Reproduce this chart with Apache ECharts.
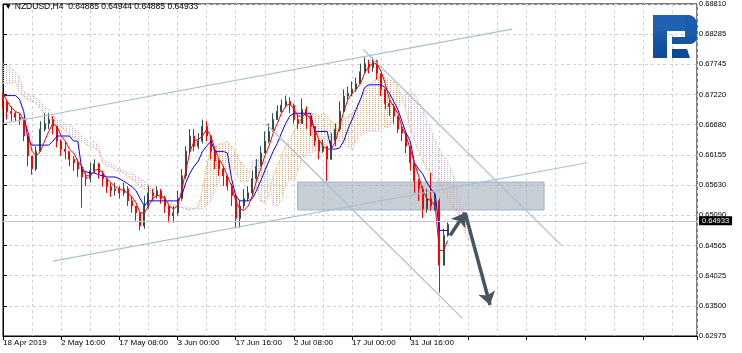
<!DOCTYPE html>
<html><head><meta charset="utf-8">
<script src="https://cdn.jsdelivr.net/npm/echarts@6/dist/echarts.min.js"></script>
<style>html,body{margin:0;padding:0;background:#fff}#c{width:742px;height:353px}</style>
</head><body><div id="c"></div>
<script>
// ---- data (slot index = position in arrays, each slot ~4.5 H4 bars) ----
const xLabels = ['18 Apr 2019','2 May 16:00','17 May 08:00','3 Jun 00:00','17 Jun 16:00','2 Jul 08:00','17 Jul 00:00','31 Jul 16:00'];
const yTicks = ['0.68810','0.68285','0.67745','0.67220','0.66680','0.66155','0.65630','0.65090','0.64565','0.64025','0.63500','0.62975'];
const titleText = '\u25BC NZDUSD,H4  0.64885 0.64944 0.64885 0.64933';

const opens = [.6719,.6710,.6692,.6689,.6682,.6678,.6649,.6614,.6591,.6622,
.6661,.6671,.6678,.6666,.6640,.6626,.6622,.6608,.6602,.6591,
.6577,.6574,.6588,.6600,.6584,.6574,.6560,.6553,.6556,.6549,
.6556,.6535,.6526,.6514,.6491,.6526,.6549,.6544,.6553,.6539,
.6526,.6509,.6514,.6539,.6579,.6622,.6649,.6631,.6640,.6666,
.6649,.6622,.6605,.6591,.6579,.6561,.6544,.6504,.6526,.6539,
.6549,.6574,.6596,.6619,.6640,.6657,.6678,.6692,.6703,.6710,
.6703,.6678,.6671,.6696,.6684,.6666,.6640,.6622,.6631,.6608,
.6640,.6661,.6692,.6719,.6724,.6731,.6741,.6762,.6776,.6769,
.6780,.6759,.6731,.6706,.6701,.6684,.6661,.6654,.6631,.6602,
.6570,.6556,.6521,.6539,.6526,.6535,.6422,.6474];
const closes = [.6710,.6692,.6689,.6682,.6678,.6649,.6614,.6591,.6622,.6661,
.6671,.6678,.6666,.6640,.6626,.6622,.6608,.6602,.6591,.6577,
.6574,.6588,.6600,.6584,.6574,.6560,.6553,.6556,.6549,.6556,
.6535,.6526,.6514,.6491,.6526,.6549,.6544,.6553,.6539,.6526,
.6509,.6514,.6539,.6579,.6622,.6649,.6631,.6640,.6666,.6649,
.6622,.6605,.6591,.6579,.6561,.6544,.6504,.6526,.6539,.6549,
.6574,.6596,.6619,.6640,.6657,.6678,.6692,.6703,.6710,.6703,
.6678,.6671,.6696,.6684,.6666,.6640,.6622,.6631,.6608,.6640,
.6661,.6692,.6719,.6724,.6731,.6741,.6762,.6776,.6769,.6780,
.6759,.6731,.6706,.6701,.6684,.6661,.6654,.6631,.6602,.6570,
.6556,.6521,.6539,.6526,.6535,.6422,.6474,.64933];
const lows = [.6696,.6678,.6675,.6675,.6668,.6640,.6596,.6581,.6588,.6622,
.6657,.6661,.6652,.6629,.6614,.6608,.6596,.6588,.6577,.6523,
.6561,.6567,.6584,.6574,.6560,.6549,.6542,.6544,.6539,.6544,
.6526,.6514,.6500,.6483,.6486,.6521,.6535,.6539,.6530,.6514,
.6497,.6497,.6509,.6535,.6574,.6619,.6622,.6626,.6636,.6640,
.6608,.6591,.6579,.6561,.6553,.6526,.6488,.6488,.6521,.6535,
.6544,.6570,.6596,.6619,.6636,.6657,.6678,.6689,.6699,.6689,
.6671,.6661,.6671,.6661,.6649,.6631,.6608,.6619,.6570,.6608,
.6631,.6657,.6692,.6713,.6719,.6727,.6741,.6759,.6759,.6762,
.6748,.6719,.6696,.6684,.6671,.6654,.6640,.6619,.6588,.6549,
.6535,.6505,.6514,.6518,.6518,.6374,.6422,.6472];
const highs = [.6724,.6710,.6701,.6692,.6689,.6678,.6649,.6614,.6631,.6675,
.6689,.6689,.6684,.6666,.6643,.6640,.6622,.6614,.6608,.6596,
.6584,.6602,.6608,.6602,.6588,.6574,.6567,.6567,.6561,.6567,
.6561,.6544,.6526,.6514,.6544,.6561,.6556,.6561,.6556,.6544,
.6526,.6526,.6553,.6591,.6631,.6661,.6661,.6654,.6678,.6675,
.6649,.6626,.6608,.6596,.6579,.6565,.6544,.6535,.6556,.6561,
.6588,.6608,.6631,.6657,.6671,.6689,.6703,.6713,.6720,.6717,
.6706,.6689,.6715,.6701,.6684,.6666,.6643,.6643,.6631,.6654,
.6671,.6710,.6731,.6736,.6745,.6752,.6776,.6787,.6783,.6787,
.6783,.6759,.6731,.6713,.6706,.6684,.6666,.6654,.6631,.6602,
.6574,.6561,.6556,.6584,.6549,.6539,.6486,.6497];
const tenkan = [.6724,.6710,.6699,.6692,.6689,.6678,.6657,.6622,.6614,.6622,
.6640,.6657,.6671,.6666,.6649,.6640,.6626,.6619,.6605,.6596,
.6579,.6579,.6588,.6591,.6584,.6574,.6567,.6560,.6556,.6553,
.6549,.6542,.6532,.6514,.6514,.6526,.6539,.6544,.6544,.6539,
.6526,.6521,.6526,.6553,.6588,.6622,.6640,.6643,.6649,.6661,
.6649,.6626,.6608,.6596,.6579,.6561,.6535,.6521,.6518,.6526,
.6544,.6570,.6591,.6614,.6631,.6654,.6671,.6689,.6701,.6706,
.6696,.6684,.6684,.6689,.6678,.6661,.6643,.6631,.6626,.6626,
.6640,.6666,.6692,.6713,.6724,.6731,.6741,.6759,.6771,.6776,
.6776,.6762,.6741,.6713,.6701,.6689,.6666,.6649,.6626,.6602,
.6579,.6553,.6539,.6535,.6526,.6448,.6448,.6465];
const kijun = [.6720,.6720,.6720,.6720,.6713,.6692,.6643,.6633,.6633,.6633,
.6633,.6633,.6640,.6649,.6649,.6649,.6649,.6640,.6640,.6588,
.6586,.6584,.6584,.6581,.6579,.6577,.6577,.6577,.6574,.6570,
.6565,.6560,.6553,.6539,.6526,.6535,.6535,.6535,.6535,.6535,
.6535,.6535,.6535,.6544,.6567,.6584,.6596,.6605,.6622,.6631,
.6640,.6622,.6622,.6622,.6619,.6574,.6544,.6535,.6535,.6535,
.6539,.6553,.6570,.6588,.6605,.6622,.6636,.6654,.6671,.6684,
.6689,.6689,.6689,.6689,.6689,.6657,.6657,.6657,.6657,.6626,
.6626,.6628,.6640,.6661,.6678,.6696,.6713,.6734,.6739,.6739,
.6739,.6739,.6734,.6724,.6710,.6696,.6675,.6654,.6640,.6602,
.6591,.6582,.6567,.6556,.6547,.6483,.6483,.6483];
const spanA = [.6741,.6741,.6741,.6745,.6724,.6719,.6713,.6710,.6706,.6696,
.6689,.6684,.6678,.6671,.6664,.6657,.6652,.6647,.6643,.6640,
.6635,.6631,.6629,.6622,.6602,.6596,.6596,.6588,.6588,.6584,
.6577,.6574,.6567,.6560,.6556,.6553,.6547,.6542,.6539,.6535,
.6530,.6526,.6526,.6523,.6521,.6518,.6521,.6526,.6553,.6596,
.6622,.6631,.6635,.6635,.6640,.6631,.6619,.6605,.6596,.6588,
.6579,.6561,.6535,.6532,.6544,.6579,.6596,.6614,.6631,.6643,
.6657,.6671,.6684,.6689,.6689,.6689,.6684,.6689,.6684,.6675,
.6666,.6675,.6678,.6684,.6689,.6701,.6713,.6727,.6736,.6745,
.6752,.6753,.6752,.6748,.6745,.6736,.6719,.6692,.6661,.6640,
.6622,.6605,.6591,.6584,.6574,.6567,.6553,.6539,.6526,.6518,
.6504,.6483,.6465];
const spanB = [.6776,.6773,.6769,.6762,.6753,.6727,.6722,.6720,.6717,.6710,
.6701,.6696,.6687,.6678,.6675,.6671,.6668,.6664,.6657,.6650,
.6643,.6640,.6640,.6631,.6608,.6605,.6600,.6596,.6591,.6588,
.6584,.6584,.6579,.6574,.6570,.6565,.6560,.6553,.6547,.6542,
.6535,.6530,.6526,.6523,.6525,.6523,.6521,.6521,.6521,.6526,
.6535,.6553,.6570,.6584,.6591,.6596,.6584,.6570,.6567,.6570,
.6605,.6608,.6608,.6605,.6579,.6526,.6526,.6535,.6561,.6574,
.6570,.6588,.6608,.6614,.6619,.6622,.6626,.6631,.6636,.6640,
.6643,.6640,.6636,.6631,.6626,.6640,.6649,.6654,.6657,.6657,
.6657,.6661,.6664,.6664,.6680,.6696,.6713,.6724,.6727,.6724,
.6710,.6696,.6678,.6661,.6640,.6626,.6614,.6605,.6588,.6570,
.6539,.6514,.6491];

// annotations in data space [slot, price]
const trendLines = [
  [[0, 0.6671], [122.5, 0.6837]],
  [[12.0, 0.6429], [140.6, 0.6602]],
  [[86.7, 0.6801], [134.5, 0.6456]],
  [[63.2, 0.6671], [110.5, 0.6329]]
];
const zone = [[70.9, 0.6568], [130.2, 0.6519]];
const arrows = [
  [[107.6, 0.6474], [111.2, 0.6514]],
  [[111.2, 0.6514], [117.2, 0.6352]]
];

const SLOTS = 167;
const FONT = 'Liberation Sans, Arial, sans-serif';

function pattern(color) {
  const c = document.createElement('canvas');
  c.width = 3; c.height = 2;
  const g = c.getContext('2d');
  g.fillStyle = color;
  g.fillRect(0, 0, 1, 1);
  return { image: c, repeat: 'repeat' };
}
const patA = pattern('#f2a060');
const patB = pattern('#c8a8d0');

const candleData = opens.map((o, i) => [i, o, closes[i], lows[i], highs[i]]);
const lastPrice = closes[closes.length - 1];
const logoFill = { type: 'linear', x: 0, y: 0, x2: 0, y2: 1, colorStops: [{ offset: 0, color: '#2266b8' }, { offset: 1, color: '#0c4a96' }] };

const chart = echarts.init(document.getElementById('c'), null, { renderer: 'canvas' });
chart.setOption({
  animation: false,
  backgroundColor: '#fff',
  grid: { left: 2, right: 45, top: 2, bottom: 17, show: true, borderColor: '#000', borderWidth: 1, backgroundColor: '#fff' },
  xAxis: [
    { type: 'value', min: 0, max: SLOTS, interval: 14, position: 'bottom',
      axisLine: { show: true, lineStyle: { color: '#000' } },
      axisTick: { show: true, length: 4, lineStyle: { color: '#000' } },
      axisLabel: { show: true, color: '#000', fontSize: 8, fontFamily: FONT, align: 'left', margin: 3,
        formatter: v => { const k = Math.round(v / 14); return (Math.abs(v - k * 14) < 1e-6 && xLabels[k]) ? xLabels[k] : ''; } },
      splitLine: { show: false } },
    { type: 'value', min: 0, max: SLOTS, interval: 7, position: 'top',
      axisLine: { show: false }, axisTick: { show: false }, axisLabel: { show: false },
      splitLine: { show: true, lineStyle: { color: '#d2d2d2', type: [3, 3], width: 1 } } }
  ],
  yAxis: [
    { type: 'value', min: 0.62975, max: 0.68810, show: false },
    { type: 'value', min: 0, max: yTicks.length - 1, interval: 1, position: 'right',
      axisLine: { show: true, lineStyle: { color: '#000' } },
      axisTick: { show: true, length: 4, lineStyle: { color: '#000' } },
      axisLabel: { color: '#000', fontSize: 7.5, fontFamily: FONT, margin: 2,
        formatter: v => yTicks[yTicks.length - 1 - Math.round(v)] || '' },
      splitLine: { show: true, lineStyle: { color: '#d2d2d2', type: [3, 3], width: 1 } } }
  ],
  series: [
    { type: 'custom', name: 'cloud', xAxisIndex: 0, yAxisIndex: 0, z: 1, clip: true, silent: true,
      data: spanA.map((a, i) => [i, a, spanB[i]]),
      encode: { x: 0, y: [1, 2] },
      renderItem: function (params, api) {
        const i = params.dataIndex;
        if (i >= spanA.length - 1) return null;
        const p1 = api.coord([i, spanA[i]]), p2 = api.coord([i + 1, spanA[i + 1]]);
        const p3 = api.coord([i + 1, spanB[i + 1]]), p4 = api.coord([i, spanB[i]]);
        const up = spanA[i] + spanA[i + 1] >= spanB[i] + spanB[i + 1];
        return { type: 'polygon', shape: { points: [p1, p2, p3, p4] }, style: { fill: up ? patA : patB, stroke: null } };
      } },
    { type: 'line', name: 'spanA', xAxisIndex: 0, yAxisIndex: 0, z: 2, showSymbol: false, silent: true,
      data: spanA.map((v, i) => [i, v]), lineStyle: { color: '#f4a460', width: 1, type: 'dotted' } },
    { type: 'line', name: 'spanB', xAxisIndex: 0, yAxisIndex: 0, z: 2, showSymbol: false, silent: true,
      data: spanB.map((v, i) => [i, v]), lineStyle: { color: '#d8bfd8', width: 1, type: 'dotted' } },
    { type: 'candlestick', name: 'NZDUSD', xAxisIndex: 0, yAxisIndex: 0, z: 3, barWidth: 1.5,
      data: candleData,
      itemStyle: { color: '#2f4f4f', color0: '#ff0000', borderColor: '#2f4f4f', borderColor0: '#ff0000', borderWidth: 1 },
      markLine: { silent: true, symbol: 'none', animation: false,
        data: [{ yAxis: lastPrice }],
        lineStyle: { color: '#c4c4c4', type: 'solid', width: 1 },
        label: { show: true, position: 'end', distance: 2, formatter: lastPrice.toFixed(5),
          color: '#fff', backgroundColor: '#000', padding: [1, 3, 0, 3], fontSize: 7.5, fontFamily: FONT } } },
    { type: 'line', name: 'kijun', xAxisIndex: 0, yAxisIndex: 0, z: 4, showSymbol: false, silent: true,
      data: kijun.map((v, i) => [i, v]), lineStyle: { color: '#0000ff', width: 1 } },
    { type: 'line', name: 'tenkan', xAxisIndex: 0, yAxisIndex: 0, z: 4, showSymbol: false, silent: true,
      data: tenkan.map((v, i) => [i, v]), lineStyle: { color: '#ff0000', width: 1 } },
    { type: 'line', name: 'annotations', xAxisIndex: 0, yAxisIndex: 0, z: 5, data: [], silent: true,
      markLine: { silent: true, symbol: 'none', animation: false, label: { show: false },
        lineStyle: { color: '#a9bfd0', width: 1.2, type: 'solid' },
        data: trendLines.map(l => [{ coord: l[0] }, { coord: l[1] }]) },
      markArea: { silent: true, animation: false,
        itemStyle: { color: 'rgba(150,162,175,0.52)', borderColor: '#9db4cc', borderWidth: 1 },
        data: [[{ coord: zone[0] }, { coord: zone[1] }]] } },
    { type: 'line', name: 'arrows', xAxisIndex: 0, yAxisIndex: 0, z: 6, data: [], silent: true,
      markLine: { silent: true, symbol: ['none', 'arrow'], symbolSize: 13, animation: false, label: { show: false },
        lineStyle: { color: '#46555f', width: 3.5, type: 'solid' },
        data: arrows.map(l => [{ coord: l[0] }, { coord: l[1] }]) } }
  ],
  graphic: [
    { type: 'text', left: 4, top: 2, z: 100,
      style: { text: titleText, fill: '#000', font: '8.5px ' + FONT } },
    { type: 'rect', z: 100, shape: { x: 653, y: 15, width: 14, height: 43 }, style: { fill: logoFill } },
    { type: 'rect', z: 100, shape: { x: 653, y: 15, width: 44, height: 16, r: [0, 9, 0, 0] }, style: { fill: '#1f62b3' } },
    { type: 'rect', z: 100, shape: { x: 685, y: 15, width: 12, height: 29, r: [0, 9, 9, 0] }, style: { fill: '#1a5cab' } },
    { type: 'rect', z: 100, shape: { x: 672, y: 37, width: 25, height: 7, r: [0, 0, 7, 0] }, style: { fill: '#15549f' } },
    { type: 'polygon', z: 100, shape: { points: [[672, 49], [687, 49], [690, 58], [672, 58]] }, style: { fill: '#0c4a96' } }
  ]
});
</script></body></html>
